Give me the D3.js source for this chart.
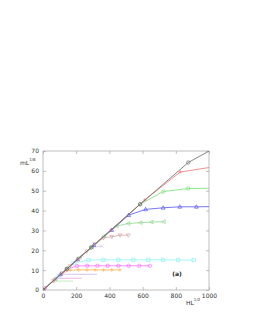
<!DOCTYPE html>
<html>
<head>
<meta charset="utf-8">
<script src="https://cdn.jsdelivr.net/npm/d3@7"></script>
<style>
  body { margin: 0; background: #fff; }
  text { font-family: "DejaVu Sans", sans-serif; }
</style>
</head>
<body>
<div id="vis"></div>
<script>
// data
const xTicks = [0, 200, 400, 600, 800, 1000]
const yTicks = [0, 10, 20, 30, 40, 50, 60, 70]

const blackX = [0, 145, 290, 585, 875, 1170]
const blackY = [0, 10.7, 21.4, 43.2, 64.2, 77.8]
const redX = [0, 205, 410, 614, 826, 1240]
const redY = [0, 15.1, 30.2, 45.4, 59.4, 64.8]
const greenX = [0, 145, 290, 585, 725, 875, 1030]
const greenY = [0, 10.7, 21.4, 43.2, 49.6, 51.1, 51.3]
const blueX = [0, 105, 208, 306, 414, 516, 618, 724, 824, 924, 1026]
const blueY = [0, 7.8, 15.4, 22.6, 30.2, 37.7, 40.6, 41.4, 41.9, 41.9, 42.0]
const ltGreenX = [0, 74, 148, 222, 296, 370, 444, 514, 588, 654, 728]
const ltGreenY = [0, 5.5, 10.9, 16.4, 21.8, 27.3, 32.2, 33.5, 33.9, 34.2, 34.4]
const tanX = [0, 64, 114, 164, 214, 264, 314, 364, 414, 464, 514]
const tanY = [0, 4.7, 8.4, 12.1, 15.8, 19.5, 23.2, 26.2, 26.8, 27.6, 27.6]
const lavX = [0, 59, 118, 177, 236, 295, 354]
const lavY = [0, 4.4, 8.7, 13.1, 17.4, 21.5, 22.1]
const cyanX = [0, 94, 184, 274, 364, 454, 544, 634, 724, 814, 908]
const cyanY = [0, 6.9, 13.6, 15.1, 15.2, 15.2, 15.2, 15.2, 15.2, 15.1, 15.0]
const magX = [12, 76, 140, 204, 266, 328, 390, 454, 516, 580, 644]
const magY = [0.9, 5.6, 10.3, 12.1, 12.2, 12.2, 12.2, 12.2, 12.2, 12.2, 12.2]
const orangeX = [14, 64, 114, 164, 214, 264, 314, 364, 414, 464]
const orangeY = [1.0, 4.7, 8.4, 10.0, 10.1, 10.1, 10.1, 10.1, 10.1, 10.1]
const violetX = [0, 54, 107, 180, 250, 325]
const violetY = [0, 4.0, 7.9, 7.9, 7.9, 7.9]
const pinkX = [0, 40, 80, 160, 234]
const pinkY = [0, 3.0, 5.9, 5.9, 5.9]
const paleGreenX = [0, 30, 61, 120, 183]
const paleGreenY = [0, 2.2, 4.5, 4.5, 4.5]

const series = [
  {x: violetX, y: violetY, color: "#cfb4ee", mark: "none"},
  {x: pinkX, y: pinkY, color: "#f2a6dc", mark: "none"},
  {x: paleGreenX, y: paleGreenY, color: "#b4e6a4", mark: "none"},
  {x: orangeX, y: orangeY, color: "#ffb454", mark: "plus"},
  {x: magX, y: magY, color: "#ff6cff", mark: "circle"},
  {x: cyanX, y: cyanY, color: "#8ef4f4", mark: "square"},
  {x: lavX, y: lavY, color: "#dcc6f2", mark: "cross"},
  {x: tanX, y: tanY, color: "#d8a8a8", mark: "tridown"},
  {x: ltGreenX, y: ltGreenY, color: "#8ed88e", mark: "trileft"},
  {x: blueX, y: blueY, color: "#5454f2", mark: "triup"},
  {x: greenX, y: greenY, color: "#72e072", mark: "circle"},
  {x: redX, y: redY, color: "#f27474", mark: "plus"},
  {x: blackX, y: blackY, color: "#6a6a6a", mark: "circle"}
]

const W = 253, H = 327
const margin = {top: 151, right: 44, bottom: 37, left: 43}
const width = W - margin.left - margin.right
const height = H - margin.top - margin.bottom

const svg = d3.select("#vis").append("svg")
  .attr("width", W).attr("height", H)

const g = svg.append("g")
  .attr("transform", `translate(${margin.left},${margin.top})`)

const xScale = d3.scaleLinear().domain([0, 1000]).range([0, width])
const yScale = d3.scaleLinear().domain([0, 70]).range([height, 0])

g.append("clipPath").attr("id", "clip")
  .append("rect").attr("width", width).attr("height", height)

// frame
g.append("rect")
  .attr("width", width).attr("height", height)
  .attr("fill", "none").attr("stroke", "#b0b0b0").attr("stroke-width", 0.8)

// axes, gnuplot style: ticks inside, mirrored
const tickCol = "#b0b0b0"
g.append("g").attr("transform", `translate(0,${height})`)
  .call(d3.axisBottom(xScale).tickValues(xTicks).tickSize(-3).tickPadding(4).tickFormat(d3.format("d")))
g.append("g")
  .call(d3.axisTop(xScale).tickValues(xTicks).tickSize(-3).tickFormat(""))
g.append("g")
  .call(d3.axisLeft(yScale).tickValues(yTicks).tickSize(-3).tickPadding(4))
g.append("g").attr("transform", `translate(${width},0)`)
  .call(d3.axisRight(yScale).tickValues(yTicks).tickSize(-3).tickFormat(""))

g.selectAll(".domain").remove()
g.selectAll(".tick line").attr("stroke", tickCol).attr("stroke-width", 0.8)
g.selectAll(".tick text").attr("fill", "#333").style("font-size", "6px")

// lines
const lineGen = d3.line()
  .x(d => xScale(d[0]))
  .y(d => yScale(d[1]))

const plot = g.append("g").attr("clip-path", "url(#clip)")

function markPath(type, r) {
  const p = d3.path()
  if (type === "circle") {
    p.moveTo(r, 0); p.arc(0, 0, r, 0, 2 * Math.PI)
  } else if (type === "square") {
    p.rect(-r, -r, 2 * r, 2 * r)
  } else if (type === "plus") {
    p.moveTo(-r, 0); p.lineTo(r, 0); p.moveTo(0, -r); p.lineTo(0, r)
  } else if (type === "cross") {
    p.moveTo(-r, -r); p.lineTo(r, r); p.moveTo(-r, r); p.lineTo(r, -r)
  } else if (type === "triup") {
    p.moveTo(0, -r * 1.2); p.lineTo(r * 1.1, r * 0.8); p.lineTo(-r * 1.1, r * 0.8); p.closePath()
  } else if (type === "tridown") {
    p.moveTo(0, r * 1.2); p.lineTo(r * 1.1, -r * 0.8); p.lineTo(-r * 1.1, -r * 0.8); p.closePath()
  } else if (type === "trileft") {
    p.moveTo(-r * 1.2, 0); p.lineTo(r * 0.8, -r * 1.1); p.lineTo(r * 0.8, r * 1.1); p.closePath()
  }
  return p.toString()
}

series.forEach(s => {
  const pts = s.x.map((v, i) => [v, s.y[i]])
  plot.append("path")
    .attr("d", lineGen(pts))
    .attr("fill", "none")
    .attr("stroke", s.color)
    .attr("stroke-width", 0.8)
  if (s.mark !== "none") {
    plot.selectAll(null)
      .data(pts.filter(d => d[0] <= 1000))
      .join("path")
      .attr("transform", d => `translate(${xScale(d[0])},${yScale(d[1])})`)
      .attr("d", markPath(s.mark, 1.7))
      .attr("fill", "none")
      .attr("stroke", s.color)
      .attr("stroke-width", 0.7)
  }
})

// labels
const ylab = svg.append("text")
  .attr("x", 20).attr("y", 165)
  .style("font-size", "6px").attr("fill", "#333")
ylab.append("tspan").text("mL")
ylab.append("tspan").attr("dy", -4).style("font-size", "4px").text("1/8")

const xlab = svg.append("text")
  .attr("x", 186).attr("y", 305)
  .style("font-size", "6px").attr("fill", "#333")
xlab.append("tspan").text("HL")
xlab.append("tspan").attr("dy", -4).style("font-size", "4px").text("1/2")

svg.append("text")
  .attr("x", 177).attr("y", 276)
  .attr("text-anchor", "middle")
  .style("font-size", "6px").style("font-weight", "bold").attr("fill", "#222")
  .text("(a)")
</script>
</body>
</html>
